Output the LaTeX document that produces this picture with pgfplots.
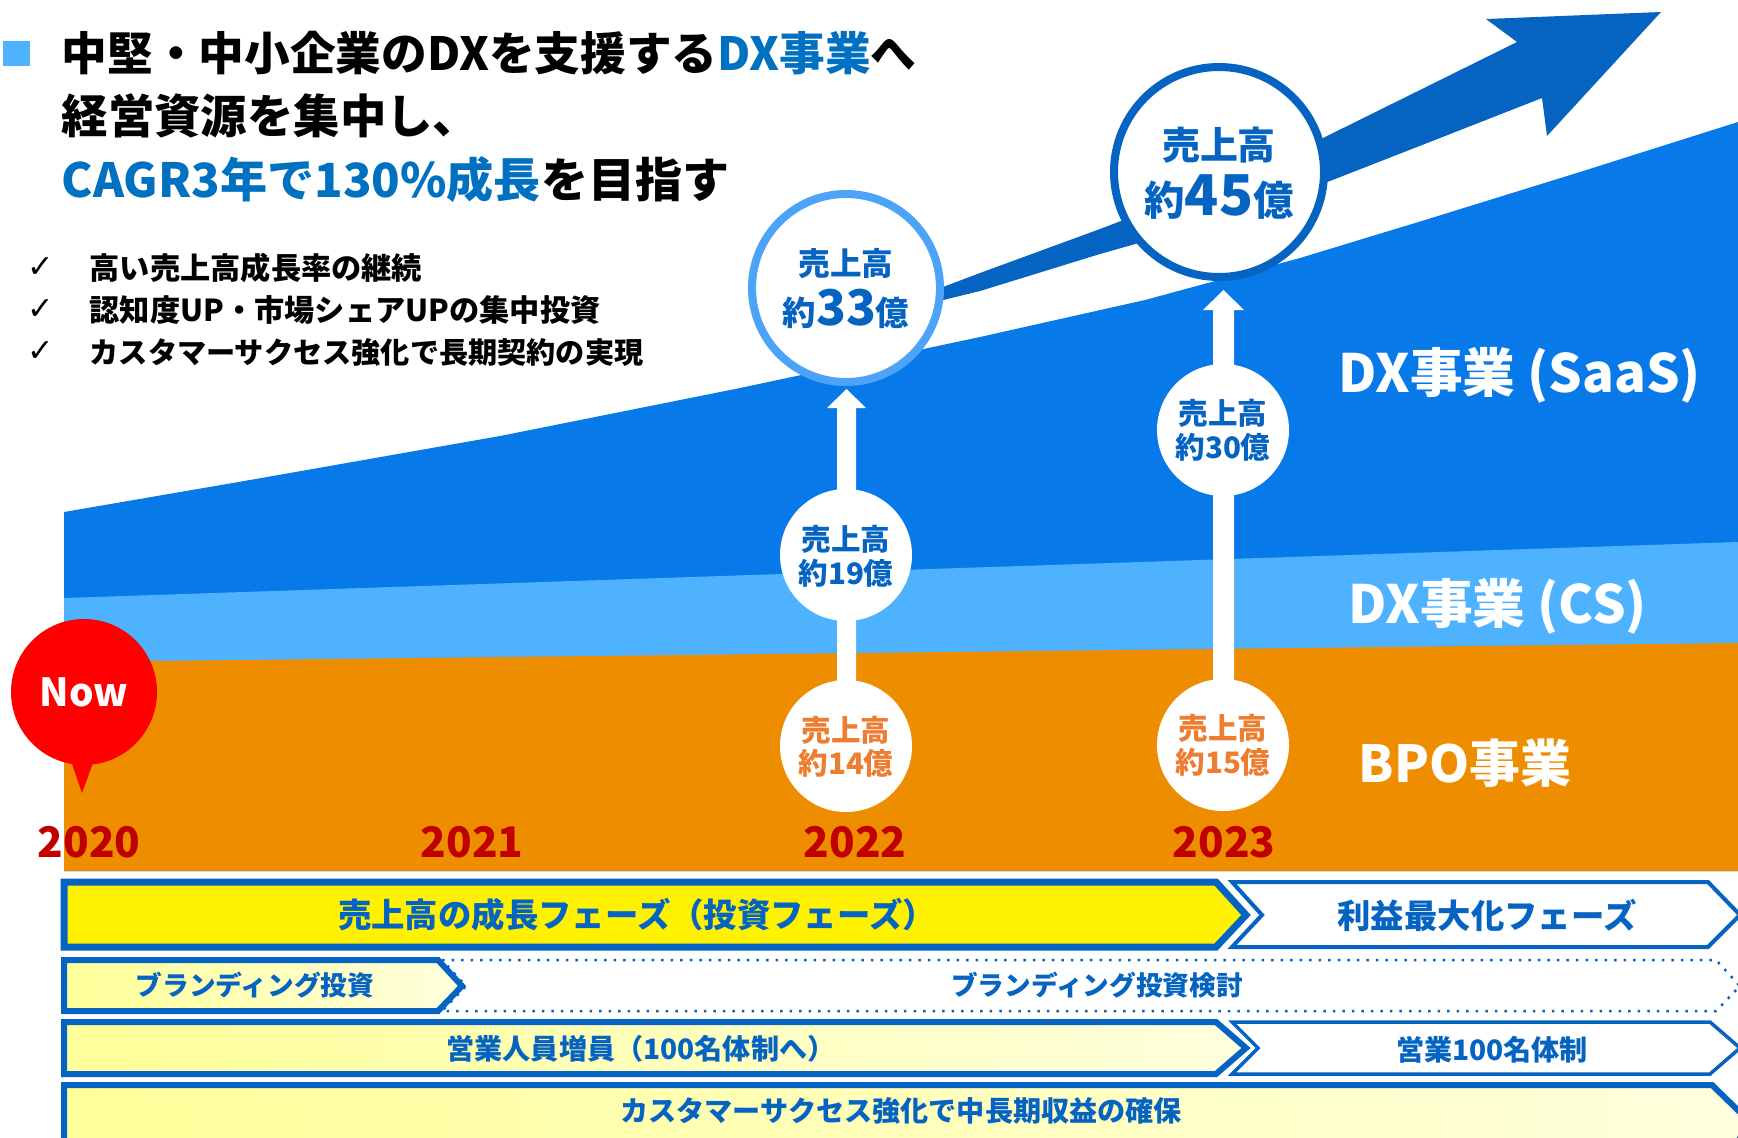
\documentclass[border=0pt]{standalone}
\usepackage{pgfplots}
\pgfplotsset{compat=1.18}
\usepackage{fontspec}
\setmainfont{Noto Sans CJK JP}
\newfontfamily\dejavu{DejaVu Sans}
\definecolor{bpo}{HTML}{EE8D00}
\definecolor{cs}{HTML}{4FB2FF}
\definecolor{saas}{HTML}{0879E8}
\definecolor{dblue}{HTML}{0563C1}
\definecolor{ring}{HTML}{4DA3F7}
\definecolor{tblue}{HTML}{0070C0}
\definecolor{yr}{HTML}{C00000}
\definecolor{otext}{HTML}{ED7D31}
\definecolor{ly}{HTML}{FFFF99}
\definecolor{lly}{HTML}{FFFFDD}
\newcommand{\fs}[1]{\fontsize{#1}{#1}\selectfont\bfseries}
\begin{document}
\begin{tikzpicture}
\begin{axis}[name=ax, scale only axis, width=173.8mm, height=113.7mm,
  xmin=0, xmax=1738, ymin=0, ymax=1137, y dir=reverse, hide axis, clip=false]
% stacked areas (drawn back to front)
\addplot[fill=saas, draw=none] coordinates {(64,871) (64,512) (250,480) (500,436) (740,388) (980,337) (1145,300) (1300,258) (1425,220) (1580,172) (1738,122) (1738,871)} -- cycle;
\addplot[fill=cs, draw=none] coordinates {(64,871) (64,598) (1738,542) (1738,871)} -- cycle;
\addplot[fill=bpo, draw=none] coordinates {(64,871) (64,662) (1738,643) (1738,871)} -- cycle;
% big growth arrow
\fill[dblue] (axis cs:935,302) -- (axis cs:980,291) -- (axis cs:1100,254) -- (axis cs:1220,220) -- (axis cs:1330,181) -- (axis cs:1440,138) -- (axis cs:1542,98) -- (axis cs:1547,136) -- (axis cs:1661,12) -- (axis cs:1486,19) -- (axis cs:1517,42) -- (axis cs:1420,90) -- (axis cs:1323,138) -- (axis cs:1220,183) -- (axis cs:1100,229) -- (axis cs:980,273) -- (axis cs:935,290) -- cycle;
% white vertical arrows
\fill[white] (axis cs:837,745) -- (axis cs:837,408) -- (axis cs:827,408) -- (axis cs:846.5,389) -- (axis cs:866,408) -- (axis cs:856,408) -- (axis cs:856,745) -- cycle;
\fill[white] (axis cs:1213,743) -- (axis cs:1213,310) -- (axis cs:1203,310) -- (axis cs:1223.5,290) -- (axis cs:1244,310) -- (axis cs:1234,310) -- (axis cs:1234,743) -- cycle;
% circles
\filldraw[fill=white, draw=ring, line width=0.8mm] (axis cs:846,288) circle[radius=9.4mm];
\filldraw[fill=white, draw=dblue, line width=0.8mm] (axis cs:1219,172) circle[radius=10.5mm];
\fill[white] (axis cs:846,555) circle[radius=6.6mm];
\fill[white] (axis cs:846,746) circle[radius=6.6mm];
\fill[white] (axis cs:1223,430) circle[radius=6.6mm];
\fill[white] (axis cs:1223,745) circle[radius=6.6mm];
% Now bubble
\fill[red] (axis cs:68,752) -- (axis cs:82,793) -- (axis cs:97,752) -- cycle;
\fill[red] (axis cs:84,692) circle[radius=7.3mm];
\node[inner sep=0pt, text=white, font=\fs{11}] at (axis cs:84,692) {Now};
% title
\fill[cs] (axis cs:3,41) rectangle (axis cs:30,66);
\node[anchor=west, inner sep=0pt, font=\fs{13}] at (axis cs:61,53) {中堅・中小企業のDXを支援する\textcolor{tblue}{DX事業}へ};
\node[anchor=west, inner sep=0pt, font=\fs{13.2}] at (axis cs:61,116) {経営資源を集中し、};
\node[anchor=west, inner sep=0pt, font=\fs{13.4}] at (axis cs:61,180) {\textcolor{tblue}{CAGR3年で130\%成長}を目指す};
% checklist
\node[inner sep=0pt, font=\dejavu\fontsize{9}{9}\selectfont] at (axis cs:41,268) {✓};
\node[inner sep=0pt, font=\dejavu\fontsize{9}{9}\selectfont] at (axis cs:41,310) {✓};
\node[inner sep=0pt, font=\dejavu\fontsize{9}{9}\selectfont] at (axis cs:41,352) {✓};
\node[anchor=west, inner sep=0pt, font=\fs{8.6}] at (axis cs:89,268) {高い売上高成長率の継続};
\node[anchor=west, inner sep=0pt, font=\fs{8.6}] at (axis cs:89,310) {認知度UP・市場シェアUPの集中投資};
\node[anchor=west, inner sep=0pt, font=\fs{8.3}] at (axis cs:89,352) {カスタマーサクセス強化で長期契約の実現};
% circle texts
\node[inner sep=0pt, text=dblue, font=\fs{9}] at (axis cs:846,264) {売上高};
\node[inner sep=0pt, text=dblue, font=\fs{9.5}] at (axis cs:846,309) {約{\fs{14}33}億};
\node[inner sep=0pt, text=dblue, font=\fs{10.8}] at (axis cs:1219,145) {売上高};
\node[inner sep=0pt, text=dblue, font=\fs{11.5}] at (axis cs:1219,197) {約{\fs{16}45}億};
\node[inner sep=0pt, text=dblue, font=\fs{8.4}] at (axis cs:846,539) {売上高};
\node[inner sep=0pt, text=dblue, font=\fs{8.4}] at (axis cs:846,573) {約19億};
\node[inner sep=0pt, text=otext, font=\fs{8.4}] at (axis cs:846,730) {売上高};
\node[inner sep=0pt, text=otext, font=\fs{8.4}] at (axis cs:846,763) {約14億};
\node[inner sep=0pt, text=dblue, font=\fs{8.4}] at (axis cs:1223,413) {売上高};
\node[inner sep=0pt, text=dblue, font=\fs{8.4}] at (axis cs:1223,447) {約30億};
\node[inner sep=0pt, text=otext, font=\fs{8.4}] at (axis cs:1223,728) {売上高};
\node[inner sep=0pt, text=otext, font=\fs{8.4}] at (axis cs:1223,762) {約15億};
% segment labels
\node[anchor=west, inner sep=0pt, text=white, font=\fs{15}] at (axis cs:1338,375) {DX事業 (SaaS)};
\node[anchor=west, inner sep=0pt, text=white, font=\fs{15}] at (axis cs:1348,606) {DX事業 (CS)};
\node[anchor=west, inner sep=0pt, text=white, font=\fs{14.5}] at (axis cs:1358,763) {BPO事業};
% years
\node[inner sep=0pt, text=yr, font=\fs{12}] at (axis cs:89,842) {2020};
\node[inner sep=0pt, text=yr, font=\fs{12}] at (axis cs:472,842) {2021};
\node[inner sep=0pt, text=yr, font=\fs{12}] at (axis cs:855,842) {2022};
\node[inner sep=0pt, text=yr, font=\fs{12}] at (axis cs:1224,842) {2023};
% timeline rows
\draw[dblue, line width=0.7mm, fill=yellow, line join=miter] (axis cs:64,882) -- (axis cs:1216,882) -- (axis cs:1246,915) -- (axis cs:1216,947) -- (axis cs:64,947) -- cycle;
\draw[dblue, line width=0.4mm, fill=white, line join=miter] (axis cs:1232,882) -- (axis cs:1708,882) -- (axis cs:1740,915) -- (axis cs:1708,947) -- (axis cs:1232,947) -- (axis cs:1262,915) -- cycle;
\node[inner sep=0pt, text=dblue, font=\fs{9.5}] at (axis cs:637,915) {売上高の成長フェーズ（投資フェーズ）};
\node[inner sep=0pt, text=dblue, font=\fs{9.5}] at (axis cs:1487,915) {利益最大化フェーズ};
\draw[dblue, line width=0.25mm, dotted] (axis cs:442,960) -- (axis cs:1716,960) -- (axis cs:1740,986) -- (axis cs:1716,1011) -- (axis cs:442,1011) -- (axis cs:466,986) -- cycle;
\draw[dblue, line width=0.6mm, left color=ly, right color=lly, line join=miter] (axis cs:64,960) -- (axis cs:438,960) -- (axis cs:462,986) -- (axis cs:438,1011) -- (axis cs:64,1011) -- cycle;
\node[inner sep=0pt, text=dblue, font=\fs{7.6}] at (axis cs:255,985) {ブランディング投資};
\node[inner sep=0pt, text=dblue, font=\fs{7.6}] at (axis cs:1097,985) {ブランディング投資検討};
\draw[dblue, line width=0.6mm, left color=ly, right color=lly, line join=miter] (axis cs:64,1022) -- (axis cs:1216,1022) -- (axis cs:1246,1048) -- (axis cs:1216,1074) -- (axis cs:64,1074) -- cycle;
\draw[dblue, line width=0.35mm, fill=white, line join=miter] (axis cs:1232,1022) -- (axis cs:1710,1022) -- (axis cs:1740,1048) -- (axis cs:1710,1074) -- (axis cs:1232,1074) -- (axis cs:1258,1048) -- cycle;
\node[inner sep=0pt, text=dblue, font=\fs{8}] at (axis cs:641,1049) {営業人員増員（100名体制へ）};
\node[inner sep=0pt, text=dblue, font=\fs{8}] at (axis cs:1492,1050) {営業100名体制};
\draw[dblue, line width=0.6mm, left color=ly, right color=lly, line join=miter] (axis cs:64,1150) -- (axis cs:64,1085) -- (axis cs:1712,1085) -- (axis cs:1748,1120) -- (axis cs:1735,1150);
\node[inner sep=0pt, text=dblue, font=\fs{8}] at (axis cs:901,1111) {カスタマーサクセス強化で中長期収益の確保};
\end{axis}
\pgfresetboundingbox
\path[use as bounding box] (ax.south west) rectangle (ax.north east);
\end{tikzpicture}
\end{document}
